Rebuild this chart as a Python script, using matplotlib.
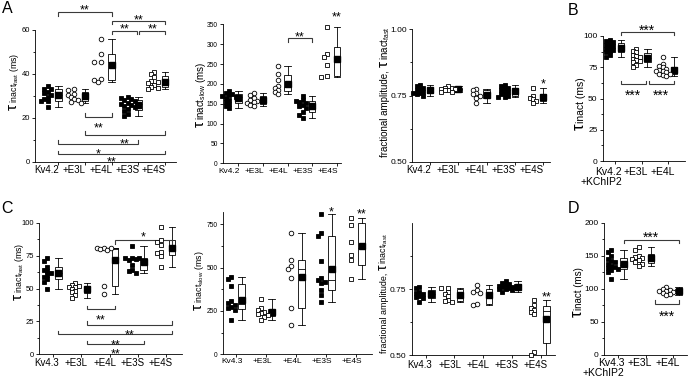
import numpy as np
import matplotlib
matplotlib.use("Agg")
import matplotlib.pyplot as plt
from matplotlib.text import Annotation

plt.rcParams['font.family'] = ['Liberation Sans', 'DejaVu Sans']
plt.rcParams['mathtext.fontset'] = 'custom'
plt.rcParams['mathtext.rm'] = 'Liberation Sans'

# ---------------- data ----------------
groups_A = ["Kv4.2", "+E3L", "+E4L", "+E3S", "+E4S"]
groups_C = ["Kv4.3", "+E3L", "+E4L", "+E3S", "+E4S"]
groups_B = ["Kv4.2\n+KChIP2", "+E3L", "+E4L"]
groups_D = ["Kv4.3\n+KChIP2", "+E3L", "+E4L"]

a_fast_kv = [34.4, 33.3, 33.0, 32.0, 31.4, 30.5, 29.5, 28.5, 27.8, 27.5, 25.0]
a_fast_e3l = [33.3, 32.9, 31.0, 30.6, 29.5, 28.6, 28.0, 27.3, 26.8]
a_fast_e4l = [55.8, 49.2, 45.5, 45.5, 37.6, 37.1, 36.5]
a_fast_e3s = [29.5, 29.0, 28.5, 28.0, 27.5, 27.0, 26.5, 26.0, 25.5, 25.0, 24.0, 23.0, 22.0, 21.0]
a_fast_e4s = [41.0, 40.0, 38.5, 37.0, 36.5, 36.0, 35.0, 34.0, 33.5, 33.0]

a_slow_kv = [182, 178, 175, 172, 170, 168, 165, 160, 155, 150, 145, 140]
a_slow_e3l = [178, 172, 165, 160, 158, 155, 152, 148, 145]
a_slow_e4l = [245, 225, 210, 195, 190, 185, 180, 175]
a_slow_e3s = [170, 160, 158, 155, 152, 148, 145, 140, 130, 122, 113]
a_slow_e4s = [343, 275, 268, 248, 220, 218]

a_amp_kv = [0.79, 0.785, 0.78, 0.775, 0.77, 0.765, 0.76, 0.76, 0.755, 0.75]
a_amp_e3l = [0.785, 0.78, 0.78, 0.775, 0.775, 0.77, 0.77, 0.765, 0.765]
a_amp_e4l = [0.775, 0.77, 0.76, 0.755, 0.75, 0.74, 0.72]
a_amp_e3s = [0.79, 0.785, 0.78, 0.775, 0.77, 0.765, 0.76, 0.755, 0.75, 0.745, 0.745]
a_amp_e4s = [0.78, 0.75, 0.74, 0.735, 0.73, 0.72]

b_kv = [97, 96, 95, 94, 93, 92, 91, 90, 89, 88, 87, 85, 83]
b_e3l = [90, 88, 87, 85, 84, 83, 82, 81, 80, 79, 77, 75]
b_e4l = [83, 78, 76, 75, 74, 73, 72, 72, 71, 70, 70, 69, 68]

c_fast_kv = [73, 71, 66, 64, 63, 61.5, 60, 59, 57, 55, 50]
c_fast_e3l = [54.5, 53, 52, 51.5, 51, 50, 48, 47, 45, 43]
c_fast_e4l = [81, 81, 80.5, 80, 79.5, 52, 46]
c_fast_e3s = [82, 73.5, 73, 73, 72.5, 72, 68, 64, 63, 62]
c_fast_e4s = [97, 87, 85, 83, 78, 77, 75, 66]

c_slow_kv = [445, 432, 395, 305, 295, 285, 275, 265, 255, 200]
c_slow_e3l = [317, 265, 255, 245, 238, 230, 225, 218, 198]
c_slow_e4l = [698, 544, 510, 492, 442, 265, 169]
c_slow_e3s = [808, 700, 683, 540, 440, 430, 420, 410, 370, 342, 300]
c_slow_e4s = [785, 745, 650, 575, 545, 435]

c_amp_kv = [0.76, 0.755, 0.74, 0.735, 0.73, 0.725, 0.72, 0.715, 0.70]
c_amp_e3l = [0.756, 0.754, 0.74, 0.73, 0.725, 0.71, 0.705, 0.70]
c_amp_e4l = [0.766, 0.745, 0.74, 0.735, 0.695, 0.688]
c_amp_e3s = [0.78, 0.775, 0.77, 0.765, 0.762, 0.76, 0.758, 0.755, 0.752, 0.75, 0.745, 0.74]
c_amp_e4s = [0.71, 0.69, 0.68, 0.67, 0.665, 0.655, 0.51, 0.50]

d_kv = [158, 155, 150, 145, 142, 140, 137, 135, 133, 131, 130, 128, 125, 115]
d_e3l = [163, 158, 150, 148, 146, 145, 143, 140, 138, 135]
d_e4l = [102, 100, 98, 97, 96, 95, 94, 92, 90]

# ---------------- figure ----------------
W, H = 700, 385
fig = plt.figure(figsize=(7, 3.85), dpi=100)

mk5 = [('s', True), ('s', False), ('o', False), ('s', True), ('s', False)]
mkA = [('s', True), ('o', False), ('o', False), ('s', True), ('s', False)]
mk3 = [('s', True), ('s', False), ('o', False)]

TAU = "\u03c4"
panels = [
    dict(rect=(35, 176, 30, 162), ylim=(0, 60), yt=[0, 20, 40, 60], ytl=None, ym=[10, 30, 50],
         c0=53, S=26.7, sc=-0.2, bx=0.2, tick='box', tfs=5.5, lfs=7, loff=3, sfs=9,
         data=[a_fast_kv, a_fast_e3l, a_fast_e4l, a_fast_e3s, a_fast_e4s], groups=groups_A, mk=mkA,
         ylab=((17, 110), [(TAU, 11), (r"inact$_{\mathregular{fast}}$ (ms)", 6.3)]),
         brackets=[(0, 2, 68, 'down', '**', 70.6, 0, 0), (2, 4, 64.2, 'down', '**', 66.5, 0, 0),
                   (2, 3, 59.7, 'down', '**', 62, 0, -1), (3, 4, 59.7, 'down', '**', 62, 1, 0),
                   (1, 2, 20.6, 'up', '**', 17.3, 0, 0), (1, 4, 12.3, 'up', '**', 9.7, 0, 0),
                   (0, 3, 8.2, 'up', '*', 5.5, 0, 0), (0, 4, 3.6, 'up', '**', 1.8, 0, 0)],
         singles=[]),
    dict(rect=(223, 341, 24.3, 163.3), ylim=(0, 350), yt=list(range(0, 351, 50)), ytl=None, ym=[],
         c0=233.7, S=24.6, sc=-0.19, bx=0.19, tick='box', tfs=4.8, lfs=6, loff=5, sfs=9,
         data=[a_slow_kv, a_slow_e3l, a_slow_e4l, a_slow_e3s, a_slow_e4s], groups=groups_A, mk=mkA,
         ylab=((203.5, 126.7), [(TAU, 11), (r"inact$_{\mathregular{slow}}$ (ms)", 7)]),
         brackets=[(2, 3, 315, 'down', '**', 327, 0, 0)],
         singles=[(4, '**', 378)]),
    dict(rect=(412, 550, 29.3, 161.7), ylim=(0.5, 1.0), yt=[0.5, 0.75, 1.0], ytl=['0.50', '0.75', '1.00'],
         ym=[0.625, 0.875], c0=425, S=28.25, sc=-0.18, bx=0.18, tick='box', tfs=6, lfs=7, loff=3.5, sfs=9,
         data=[a_amp_kv, a_amp_e3l, a_amp_e4l, a_amp_e3s, a_amp_e4s], groups=groups_A, mk=mk5,
         ylab=((388, 156.7), [("fractional amplitude, ", 7), (TAU, 11), (r"inact$_{\mathregular{fast}}$", 7)]),
         brackets=[], singles=[(4, '*', 0.808)]),
    dict(rect=(602.7, 685, 36, 161), ylim=(0, 100), yt=[0, 25, 50, 75, 100], ytl=None,
         ym=[12.5, 37.5, 62.5, 87.5], c0=615, S=26.5, sc=-0.2, bx=0.22, tick='center', tfs=6, lfs=7.5,
         loff=6, sfs=10,
         data=[b_kv, b_e3l, b_e4l], groups=groups_B, mk=mk3,
         ylab=((584, 130), [(TAU, 12), ("inact (ms)", 7.5)]),
         brackets=[(0, 2, 103.4, 'down', '***', 107.5, 0, 0), (0, 1, 61.3, 'up', '***', 55.5, 0, -1.5),
                   (1, 2, 61.3, 'up', '***', 55.5, 1.5, 0)],
         singles=[]),
    dict(rect=(39.3, 182, 222.7, 354.3), ylim=(0, 100), yt=[0, 25, 50, 75, 100], ytl=None,
         ym=[12.5, 37.5, 62.5, 87.5], c0=52.8, S=28.35, sc=-0.2, bx=0.2, tick='center', tfs=5.5, lfs=7,
         loff=4, sfs=9,
         data=[c_fast_kv, c_fast_e3l, c_fast_e4l, c_fast_e3s, c_fast_e4s], groups=groups_C, mk=mk5,
         ylab=((22, 300), [(TAU, 11), (r"inact$_{\mathregular{fast}}$ (ms)", 6.3)]),
         brackets=[(2, 4, 86.8, 'down', '*', 92, 0, 0), (1, 2, 34.3, 'up', '**', 28.6, 0, 0),
                   (1, 4, 22.3, 'up', '**', 17.7, 0, 0), (0, 4, 15.2, 'up', '**', 10.3, 0, 0),
                   (1, 3, 7.8, 'up', '**', 3.3, 0, 0)],
         singles=[]),
    dict(rect=(222.7, 372, 211.7, 354.3), ylim=(0, 823), yt=[0, 250, 500, 750], ytl=None,
         ym=[125, 375, 625], c0=236.2, S=30, sc=-0.17, bx=0.18, tick='center', tfs=4.8, lfs=6, loff=4,
         sfs=9,
         data=[c_slow_kv, c_slow_e3l, c_slow_e4l, c_slow_e3s, c_slow_e4s], groups=groups_C, mk=mk5,
         ylab=((202, 310), [(TAU, 11), (r"inact$_{\mathregular{slow}}$ (ms)", 6.3)]),
         brackets=[], singles=[(3, '*', 842), (4, '**', 832)]),
    dict(rect=(411.7, 555, 223.3, 355), ylim=(0.5, 1.0), yt=[0.5, 0.75], ytl=['0.50', '0.75'],
         ym=[0.625, 0.875], c0=425.7, S=28.75, sc=-0.22, bx=0.2, tick='center', tfs=6, lfs=7, loff=4.5,
         sfs=9,
         data=[c_amp_kv, c_amp_e3l, c_amp_e4l, c_amp_e3s, c_amp_e4s], groups=groups_C, mk=mk5,
         ylab=((387, 353.3), [("fractional amplitude, ", 6.4), (TAU, 10), (r"inact$_{\mathregular{fast}}$", 6.4)]),
         brackets=[], singles=[(4, '**', 0.736)]),
    dict(rect=(604, 686.7, 222.7, 354.5), ylim=(0, 200), yt=[0, 50, 100, 150, 200], ytl=None,
         ym=[25, 75, 125, 175], c0=618, S=27.5, sc=-0.25, bx=0.2, tick='center', tfs=6, lfs=7.5, loff=4,
         sfs=10,
         data=[d_kv, d_e3l, d_e4l], groups=groups_D, mk=mk3,
         ylab=((582, 316.7), [(TAU, 12), ("inact (ms)", 7)]),
         brackets=[(0, 2, 174, 'down', '***', 183, 0, 0), (1, 2, 77, 'up', '***', 64, 4, 0)],
         singles=[]),
]

LW = 0.6
BOX_PX = 6.5
D_PX = 4.0


def swarm_x(ax, xc, vals, d):
    tr = ax.transData
    pts = tr.transform(np.column_stack([np.full(len(vals), xc), vals]))
    x0 = pts[0, 0]
    order = np.argsort(-np.asarray(vals, dtype=float), kind='stable')
    placed = []
    xs = np.zeros(len(vals))
    cands = [0, -1, 1, -2, 2]
    for idx in order:
        y = pts[idx, 1]
        best, bestd, bestx = None, -1, x0
        for k in cands:
            cx = x0 + k * d * 0.85
            md = min([np.hypot(cx - px, y - py) for px, py in placed] + [1e9])
            if md >= d * 0.9:
                best = cx
                break
            if md > bestd:
                bestd, bestx = md, cx
        if best is None:
            best = bestx
        placed.append((best, y))
        xs[idx] = best
    inv = tr.inverted()
    return inv.transform(np.column_stack([xs, pts[:, 1]]))[:, 0]


def bstats(v):
    v = np.asarray(v, dtype=float)
    q1, med, q3 = np.percentile(v, [25, 50, 75], method='weibull')
    return dict(med=med, q1=q1, q3=q3, whislo=v.min(), whishi=v.max(), mean=v.mean(), fliers=[])


for p in panels:
    l, r, t, b = p['rect']
    ax = fig.add_axes([l / W, 1 - b / H, (r - l) / W, (b - t) / H])
    S, c0 = p['S'], p['c0']
    ax.set_xlim((l - c0) / S, (r - c0) / S)
    ax.set_ylim(*p['ylim'])
    for s in ['top', 'right']:
        ax.spines[s].set_visible(False)
    for s in ['left', 'bottom']:
        ax.spines[s].set_linewidth(LW)
    ypp = (b - t) / (p['ylim'][1] - p['ylim'][0])  # pixels per y unit
    n = len(p['data'])
    boxx = [i + p['bx'] for i in range(n)]
    scx = [i + p['sc'] for i in range(n)]
    ticks = boxx if p['tick'] == 'box' else list(range(n))
    ax.set_xticks(ticks, [''] * n)
    if p['ytl'] is None:
        ax.set_yticks(p['yt'], [str(v) for v in p['yt']])
    else:
        ax.set_yticks(p['yt'], p['ytl'])
    ax.set_yticks(p['ym'], minor=True)
    ax.tick_params(which='major', length=2.5, width=LW, pad=1.2, labelsize=p['tfs'])
    ax.tick_params(which='minor', length=1.5, width=LW)
    w = BOX_PX / S
    for i, vals in enumerate(p['data']):
        m, filled = p['mk'][i]
        xs = swarm_x(ax, scx[i], vals, D_PX)
        ms = 2.9 if m == 's' else 3.3
        ax.plot(xs, vals, ls='none', marker=m, ms=ms, mec='k', mew=0.6,
                mfc='k' if filled else 'white', clip_on=False, zorder=3)
        ax.bxp([bstats(vals)], positions=[boxx[i]], widths=w, capwidths=w, showmeans=True,
               patch_artist=True, manage_ticks=False,
               boxprops=dict(facecolor='white', edgecolor='k', lw=LW),
               medianprops=dict(color='k', lw=LW), whiskerprops=dict(color='k', lw=LW),
               capprops=dict(color='k', lw=LW),
               meanprops=dict(marker='s', mfc='k', mec='k', ms=4.2))
        ax.annotate(p['groups'][i], xy=(boxx[i], 0), xycoords=('data', 'axes fraction'),
                    xytext=(0.7, -p['loff'] * 0.72), textcoords='offset points', ha='right', va='top',
                    fontsize=p['lfs'], multialignment='right', linespacing=1.0, annotation_clip=False)
    hook = 3.5 / ypp
    for g1, g2, y, d, st, sy, gp1, gp2 in p['brackets']:
        x1 = boxx[g1] + gp1 / S
        x2 = boxx[g2] + gp2 / S
        yy = y - hook if d == 'down' else y + hook
        ax.plot([x1, x1, x2, x2], [yy, y, y, yy], color='#3a3a3a', lw=0.8, clip_on=False,
                solid_joinstyle='miter')
        ax.annotate(st, xy=((x1 + x2) / 2, sy), xytext=(0, -0.58 * p['sfs']), textcoords='offset points',
                    ha='center', va='baseline', fontsize=p['sfs'], annotation_clip=False)
    for g, st, sy in p['singles']:
        ax.annotate(st, xy=(boxx[g], sy), xytext=(0, -0.58 * p['sfs']), textcoords='offset points',
                    ha='center', va='baseline', fontsize=p['sfs'], annotation_clip=False)
    # y label (tau larger than the rest), chained bottom-to-top
    (lx, ly), parts = p['ylab']
    x = lx / W
    y = 1 - ly / H
    prev = fig.text(x, y, parts[0][0], fontsize=parts[0][1], rotation=90, rotation_mode='anchor',
                    ha='left', va='baseline')
    for txt, fs in parts[1:]:
        a = Annotation(txt, xy=(x, 1.0), xycoords=('figure fraction', prev), xytext=(0, 0.4),
                       textcoords='offset points', fontsize=fs, rotation=90,
                       rotation_mode='anchor', ha='left', va='baseline')
        fig.add_artist(a)
        prev = a

for letter, (px, py) in zip("ABCD", [(1.7, 13.3), (568, 15), (1.7, 213), (568, 213)]):
    fig.text(px / W, 1 - py / H, letter, fontsize=11.5, ha='left', va='baseline')

fig.savefig("out.png", dpi=100)
